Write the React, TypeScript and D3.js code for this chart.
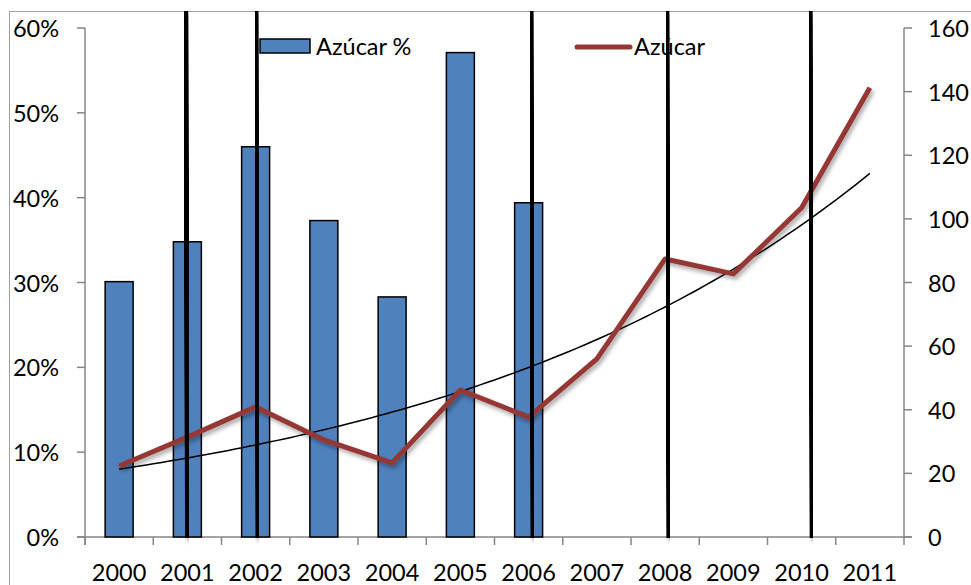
import React from 'react';
import * as d3 from 'd3';

const categories = ['2000', '2001', '2002', '2003', '2004', '2005', '2006', '2007', '2008', '2009', '2010', '2011'];
const sugarPct: (number | null)[] = [30.1, 34.8, 46.0, 37.3, 28.3, 57.1, 39.4, null, null, null, null, null];
const sugarValue = [22.3, 31.4, 40.9, 30.5, 23.3, 46.2, 37.7, 56.0, 87.4, 82.7, 103.5, 141.2];
const leftTicks = [0, 10, 20, 30, 40, 50, 60];
const rightTicks = [0, 20, 40, 60, 80, 100, 120, 140, 160];
// annotation lines, in category-index units
const markerPositions = [0.99, 2.02, 6.05, 8.04, 10.14];

const W = 971;
const H = 585;
const M = { left: 85, right: 904, top: 28, bottom: 537 };
const FONT = 'Lato, "Open Sans", sans-serif';
const FS = 23.5;
const AXIS = '#868686';

export default function App() {
  const x = d3.scaleBand<string>().domain(categories).range([M.left, M.right]).paddingInner(0).paddingOuter(0);
  const bw = x.bandwidth();
  const barW = bw * 0.41;
  const xi = d3.scaleLinear().domain([0, categories.length - 1]).range([M.left + bw / 2, M.right - bw / 2]);
  const yL = d3.scaleLinear().domain([0, 60]).range([M.bottom, M.top]);
  const yR = d3.scaleLinear().domain([0, 160]).range([M.bottom, M.top]);

  // exponential trend fit on line series
  const n = sugarValue.length;
  const idx = d3.range(n);
  const lnv = sugarValue.map((v) => Math.log(v));
  const mx = d3.mean(idx) as number;
  const my = d3.mean(lnv) as number;
  const b = d3.sum(idx, (i) => (i - mx) * (lnv[i] - my)) / d3.sum(idx, (i) => (i - mx) * (i - mx));
  const a = my - b * mx;
  const trendPts = d3.range(0, n - 1 + 0.0001, 0.1).map((t) => [xi(t), yR(Math.exp(a + b * t))] as [number, number]);

  const line = d3.line<number>().x((_, i) => xi(i)).y((d) => yR(d));
  const trend = d3.line<[number, number]>().x((d) => d[0]).y((d) => d[1]).curve(d3.curveMonotoneX);

  return (
    <svg width={W} height={H} style={{ position: 'absolute', left: 0, top: 0, background: '#fff' }} fontFamily={FONT}>
      <defs>
        <filter id="sh" x="-20%" y="-20%" width="140%" height="140%">
          <feDropShadow dx="2" dy="3" stdDeviation="2" floodColor="#000" floodOpacity="0.35" />
        </filter>
      </defs>
      <rect x={9.5} y={11.5} width={W + 20} height={H + 20} fill="#fff" stroke="#a0a0a0" strokeWidth={1} />

      {/* axes */}
      <line x1={M.left} x2={M.left} y1={M.top} y2={M.bottom + 8} stroke={AXIS} strokeWidth={1.5} />
      <line x1={M.right} x2={M.right} y1={M.top} y2={M.bottom + 8} stroke={AXIS} strokeWidth={1.5} />
      <line x1={M.left - 8} x2={M.right + 8} y1={M.bottom} y2={M.bottom} stroke={AXIS} strokeWidth={1.5} />
      {leftTicks.map((t) => (
        <g key={'l' + t}>
          <line x1={M.left - 8} x2={M.left} y1={yL(t)} y2={yL(t)} stroke={AXIS} strokeWidth={1.5} />
          <text x={59} y={yL(t)} textAnchor="end" dominantBaseline="central" fontSize={FS} fill="#000">{t + '%'}</text>
        </g>
      ))}
      {rightTicks.map((t) => (
        <g key={'r' + t}>
          <line x1={M.right} x2={M.right + 8} y1={yR(t)} y2={yR(t)} stroke={AXIS} strokeWidth={1.5} />
          <text x={928} y={yR(t)} textAnchor="start" dominantBaseline="central" fontSize={FS} fill="#000">{t}</text>
        </g>
      ))}
      {categories.map((c) => (
        <g key={'x' + c}>
          <line x1={x(c) as number} x2={x(c) as number} y1={M.bottom} y2={M.bottom + 8} stroke={AXIS} strokeWidth={1.5} />
          <text x={(x(c) as number) + bw / 2} y={572} textAnchor="middle" dominantBaseline="central" fontSize={FS} fill="#000">{c}</text>
        </g>
      ))}

      {/* bars */}
      {categories.map((c, i) =>
        sugarPct[i] == null ? null : (
          <rect key={'b' + c} x={(x(c) as number) + (bw - barW) / 2} y={yL(sugarPct[i] as number)} width={barW}
            height={M.bottom - yL(sugarPct[i] as number)} fill="#4f81bd" stroke="#000" strokeWidth={1.5} />
        )
      )}

      {/* trend */}
      <path d={trend(trendPts) as string} fill="none" stroke="#000" strokeWidth={1.5} />
      {/* line */}
      <path d={line(sugarValue) as string} fill="none" stroke="#953735" strokeWidth={5} strokeLinejoin="round" filter="url(#sh)" />

      {/* legend */}
      <rect x={260} y={39} width={50} height={14} fill="#4f81bd" stroke="#000" strokeWidth={1.5} />
      <text x={316} y={46} dominantBaseline="central" fontSize={FS} fill="#000">Azúcar %</text>
      <line x1={577} x2={630} y1={47} y2={47} stroke="#953735" strokeWidth={5} strokeLinecap="round" />
      <text x={634} y={46} dominantBaseline="central" fontSize={FS} fill="#000">Azúcar</text>

      {/* annotation lines */}
      {markerPositions.map((p, i) => (
        <line key={'m' + i} x1={xi(p) - 1.3} x2={xi(p) + 1.3} y1={11} y2={M.bottom + 1} stroke="#000" strokeWidth={5.5} filter="url(#sh)" />
      ))}
    </svg>
  );
}
